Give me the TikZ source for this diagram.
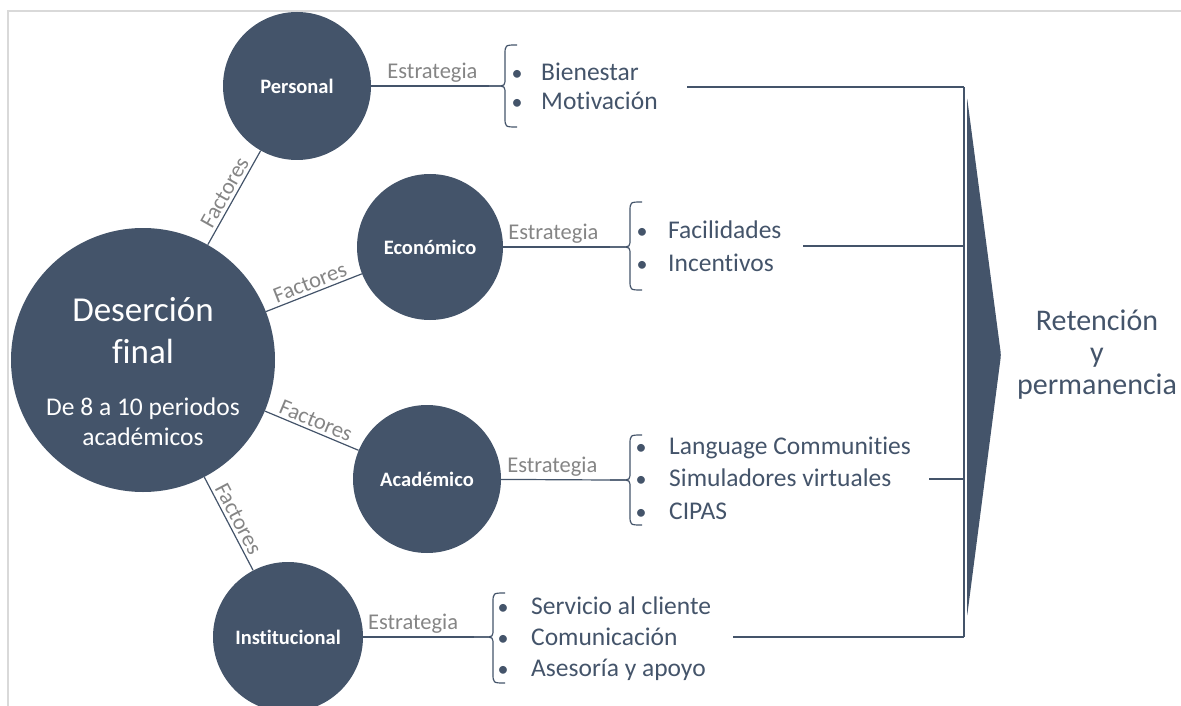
\documentclass[tikz,border=0pt]{standalone}
\usepackage{fontspec}
\setmainfont{Carlito}[Ligatures=NoCommon]
\definecolor{slate}{HTML}{44546A}
\definecolor{lblgray}{HTML}{858585}
\definecolor{framegray}{HTML}{D9D9D9}
\begin{document}
\begin{tikzpicture}[x=1pt,y=-1pt,
  bub/.style={circle,fill=slate,draw=none,inner sep=0pt,text=white,align=center},
  catlbl/.style={font=\fontsize{20.5}{24}\selectfont\bfseries},
  conn/.style={draw=slate,line width=1.2pt},
  lbl/.style={text=lblgray,font=\fontsize{22.5}{26}\selectfont,inner sep=3pt},
  item/.style={anchor=west,text=slate,font=\fontsize{25.5}{30}\selectfont,text height=22pt,text depth=5pt,inner sep=0pt},
  bul/.style={text=slate,font=\fontsize{22}{26}\selectfont,text height=22pt,text depth=5pt,inner sep=0pt},
  bracebox/.style={draw=slate,line width=1.2pt}
]
\useasboundingbox (0,0) rectangle (1181,706);
% frame
\draw[framegray,line width=2pt] (8,706) -- (8,11) -- (1181,11);

% circles
\node[bub,minimum size=264pt] (des) at (143,360) {};
\node[text=white,font=\fontsize{35}{40}\selectfont,align=center] (destit) at (143,331) {Deserción\\[2pt]final};
\node[text=white,font=\fontsize{25.5}{30}\selectfont,align=center] (dessub) at (143,422) {De 8 a 10 periodos\\académicos};

\node[bub,minimum size=148pt,catlbl] (per) at (297,86) {Personal};
\node[bub,minimum size=146pt,catlbl] (eco) at (430,247) {Económico};
\node[bub,minimum size=148pt,catlbl] (aca) at (427,479) {Académico};
\node[bub,minimum size=150pt,catlbl] (ins) at (288,637) {Institucional};

% Factores connectors
\draw[conn] (des) -- node[lbl,sloped,above] {Factores} (per);
\draw[conn] (des) -- node[lbl,sloped,above] {Factores} (eco);
\draw[conn] (des) -- node[lbl,sloped,above] {Factores} (aca);
\draw[conn] (des) -- node[lbl,sloped,above] {Factores} (ins);

% brace tips
\coordinate (bp) at (489,86);
\coordinate (be) at (610,247);
\coordinate (ba) at (610,480);
\coordinate (bi) at (474,637);

% Estrategia connectors
\draw[conn] (per) -- node[lbl,above,pos=0.52] {Estrategia} (bp);
\draw[conn] (eco) -- node[lbl,above,pos=0.47] {Estrategia} (be);
\draw[conn] (aca) -- node[lbl,above,pos=0.47] {Estrategia} (ba);
\draw[conn] (ins) -- node[lbl,above,pos=0.45] {Estrategia} (bi);

% braces
\draw[bracebox] (517,45) .. controls (505,45) .. (505,55) -- (505,78) .. controls (505,86) .. (495,86) -- (bp);
\draw[bracebox] (bp) -- (495,86) .. controls (505,86) .. (505,94) -- (505,117) .. controls (505,127) .. (517,127);

\draw[bracebox] (642,202) .. controls (630,202) .. (630,212) -- (630,239) .. controls (630,247) .. (620,247) -- (be);
\draw[bracebox] (be) -- (620,247) .. controls (630,247) .. (630,255) -- (630,280) .. controls (630,290) .. (642,290);

\draw[bracebox] (642,435) .. controls (630,435) .. (630,445) -- (630,472) .. controls (630,480) .. (620,480) -- (ba);
\draw[bracebox] (ba) -- (620,480) .. controls (630,480) .. (630,488) -- (630,515) .. controls (630,525) .. (642,525);

\draw[bracebox] (505,593) .. controls (493,593) .. (493,603) -- (493,629) .. controls (493,637) .. (483,637) -- (bi);
\draw[bracebox] (bi) -- (483,637) .. controls (493,637) .. (493,645) -- (493,673) .. controls (493,683) .. (505,683);

% list items
\node[bul] (pb1) at (517,72) {•};
\node[bul] (pb2) at (517,101) {•};
\node[item] (p1) at (541,72) {Bienestar};
\node[item] (p2) at (541,101) {Motivación};

\node[bul] (eb1) at (642,230) {•};
\node[bul] (eb2) at (642,263) {•};
\node[item] (e1) at (668,230) {Facilidades};
\node[item] (e2) at (668,263) {Incentivos};

\node[bul] (ab1) at (641,446) {•};
\node[bul] (ab2) at (641,478) {•};
\node[bul] (ab3) at (641,511) {•};
\node[item] (a1) at (669,446) {Language Communities};
\node[item] (a2) at (669,478) {Simuladores virtuales};
\node[item] (a3) at (669,511) {CIPAS};

\node[bul] (ib1) at (503,606) {•};
\node[bul] (ib2) at (503,637) {•};
\node[bul] (ib3) at (503,668) {•};
\node[item] (i1) at (531,606) {Servicio al cliente};
\node[item] (i2) at (531,637) {Comunicación};
\node[item] (i3) at (531,668) {Asesoría y apoyo};

% right collector
\coordinate (l1) at (687,87);
\coordinate (l2) at (803,246);
\coordinate (l3) at (929,479);
\coordinate (l4) at (733,637);
\coordinate (r1) at (964,87);
\coordinate (r2) at (964,246);
\coordinate (r3) at (964,479);
\coordinate (r4) at (964,637);
\draw[conn] (l1) -- (r1);
\draw[conn] (l2) -- (r2);
\draw[conn] (l3) -- (r3);
\draw[conn] (l4) -- (r4);
\draw[conn] (r1) -- (r4);

% arrow wedge
\fill[slate,rounded corners=3pt] (967,97) -- (1001,355) -- (967,617) -- cycle;

% result
\node[text=slate,font=\fontsize{30}{32}\selectfont,align=center] (res) at (1097,355) {Retención\\y\\permanencia};
\end{tikzpicture}
\end{document}
